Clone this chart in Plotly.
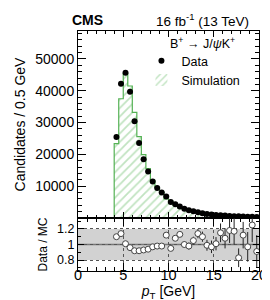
import plotly.graph_objects as go

# ---------------- data ----------------
pt_bins = [4.25, 4.75, 5.25, 5.75, 6.25, 6.75, 7.25, 7.75, 8.25, 8.75,
           9.25, 9.75, 10.25, 10.75, 11.25, 11.75, 12.25, 12.75, 13.25, 13.75,
           14.25, 14.75, 15.25, 15.75, 16.25, 16.75, 17.25, 17.75, 18.25, 18.75,
           19.25, 19.75]
bin_width = 0.5

data_counts = [25500, 42200, 45700, 39700, 30400, 23600, 18500, 14600, 11500, 9400,
               8000, 6750, 5000, 4300, 3600, 2900, 2400, 2100, 1800, 1500,
               1250, 1100, 950, 850, 750, 650, 580, 520, 460, 410,
               370, 330]

mc_counts = [23400, 37500, 45500, 41500, 33200, 25600, 19900, 15500, 11850, 9600,
             8150, 6030, 5260, 3980, 3190, 2900, 2450, 2000, 1580, 1360,
             1260, 1130, 940, 740, 690, 550, 500, 630, 410, 420,
             300, 360]

ratio = [1.10, 1.14, 1.01, 0.96, 0.92, 0.92, 0.93, 0.94, 0.97, 0.98,
         0.98, 1.12, 0.95, 1.08, 1.13, 1.00, 0.98, 1.05, 1.14, 1.10,
         0.99, 0.97, 1.01, 1.15, 1.08, 1.18, 1.17, 0.83, 1.12, 0.97,
         1.25, 0.91]
ratio_err = [0.01, 0.01, 0.01, 0.01, 0.01, 0.01, 0.01, 0.01, 0.01, 0.01,
             0.015, 0.02, 0.025, 0.03, 0.035, 0.04, 0.045, 0.05, 0.06, 0.065,
             0.07, 0.08, 0.085, 0.12, 0.13, 0.16, 0.17, 0.12, 0.17, 0.19,
             0.22, 0.21]

band_low, band_high = 0.8, 1.2
x_ticks = [0, 5, 10, 15, 20]
y_ticks = [10000, 20000, 30000, 40000, 50000]
ratio_ticks = [0.8, 1, 1.2]
ratio_labels = ["0.8", "1", "1.2"]

# ---------------- styling ----------------
FONT = "Liberation Sans, Arial, Helvetica, sans-serif"
GREEN = "#55b255"
HATCH = "#82c782"

W, H = 270, 300
ML, MR, MT, MB = 65, 11, 23, 37
PW, PH = W - ML - MR, H - MT - MB
split = (H - MB - 210) / PH


def px_x(p):
    return (p - ML) / PW


def px_y(p):
    return (H - MB - p) / PH


fig = go.Figure()

# hatched simulation histogram (fill)
fig.add_trace(go.Bar(
    x=pt_bins, y=mc_counts, width=bin_width, name="Simulation",
    marker=dict(color="rgba(255,255,255,0)", line=dict(width=0),
                pattern=dict(shape="/", fgcolor=HATCH, bgcolor="rgba(255,255,255,0)",
                             size=6, solidity=0.3)),
    xaxis="x", yaxis="y", legendrank=2, hoverinfo="skip"))

# step outline
edges = [c - bin_width / 2 for c in pt_bins]
step_x = [edges[0]] + edges + [pt_bins[-1] + bin_width / 2]
step_y = [0] + mc_counts + [mc_counts[-1]]
fig.add_trace(go.Scatter(
    x=step_x, y=step_y, mode="lines", line=dict(color=GREEN, width=1.2, shape="hv"),
    showlegend=False, xaxis="x", yaxis="y", hoverinfo="skip"))

# data points
fig.add_trace(go.Scatter(
    x=pt_bins, y=data_counts, mode="markers", name="Data",
    marker=dict(color="black", size=6, symbol="circle"),
    xaxis="x", yaxis="y", legendrank=1))

# ratio points
fig.add_trace(go.Scatter(
    x=pt_bins, y=ratio, mode="markers", showlegend=False,
    marker=dict(color="white", size=6, symbol="circle",
                line=dict(color="#444444", width=1)),
    error_y=dict(type="data", array=ratio_err, color="#222222", thickness=1, width=0),
    xaxis="x2", yaxis="y2"))

line_common = dict(showline=True, linecolor="black", linewidth=1, mirror="allticks",
                   ticks="inside", tickcolor="black", zeroline=False)

fig.update_layout(
    width=W, height=H,
    margin=dict(l=ML, r=MR, t=MT, b=MB),
    paper_bgcolor="white", plot_bgcolor="white",
    font=dict(family=FONT, color="black", size=13),
    bargap=0,
    showlegend=True,
    xaxis=dict(domain=[0, 1], range=[0, 20], anchor="y", showticklabels=False,
               tickvals=x_ticks, ticklen=6, showgrid=False,
               minor=dict(ticks="inside", dtick=1, ticklen=3, tickcolor="black"),
               **line_common),
    yaxis=dict(domain=[split, 1], range=[0, 58800], anchor="x",
               tickvals=y_ticks, ticktext=[str(v) for v in y_ticks], ticklen=8,
               showgrid=False,
               tickfont=dict(family=FONT, size=14, color="black"),
               minor=dict(ticks="inside", dtick=2000, ticklen=4, tickcolor="black"),
               title=dict(text="Candidates / 0.5 GeV", standoff=6,
                          font=dict(family=FONT, size=14)),
               **line_common),
    xaxis2=dict(domain=[0, 1], range=[0, 20], anchor="y2",
                tickvals=x_ticks, ticktext=[str(v) for v in x_ticks], ticklen=8,
                tickfont=dict(family=FONT, size=14.5, color="black"),
                ticklabelstandoff=-9,
                showgrid=True, gridcolor="#555555", griddash="dot", gridwidth=1,
                minor=dict(ticks="inside", dtick=1, ticklen=4, tickcolor="black"),
                title=dict(text="<i>p</i><sub>T</sub> [GeV]", standoff=0,
                           font=dict(family=FONT, size=14)),
                **line_common),
    yaxis2=dict(domain=[0, split], range=[0.66, 1.34], anchor="x2",
                tickvals=ratio_ticks, ticktext=ratio_labels, ticklen=6,
                tickfont=dict(family=FONT, size=12.5, color="black"),
                showgrid=True, gridcolor="#555555", griddash="dot", gridwidth=1,
                minor=dict(ticks="inside", dtick=0.1, ticklen=3, tickcolor="black"),
                title=dict(text="Data / MC", standoff=6, font=dict(family=FONT, size=12)),
                **line_common),
    legend=dict(x=px_x(133), y=px_y(38), xanchor="left", yanchor="top",
                bgcolor="rgba(0,0,0,0)", borderwidth=0,
                font=dict(family=FONT, size=12.5, color="black")),
    shapes=[
        dict(type="rect", xref="paper", yref="y2", x0=0, x1=1,
             y0=band_low, y1=band_high, fillcolor="#d2d2d2", line=dict(width=0),
             layer="below"),
        dict(type="line", xref="paper", yref="y2", x0=0, x1=1, y0=1, y1=1,
             line=dict(color="#777777", width=1.5), layer="below"),
    ],
    annotations=[
        dict(text="<b>CMS</b>", xref="paper", yref="paper", x=px_x(75),
             y=px_y(12), xanchor="center", yanchor="middle",
             showarrow=False, font=dict(family=FONT, size=14, color="black")),
        dict(text="16 fb<sup>-1</sup> (13 TeV)", xref="paper", yref="paper",
             x=px_x(250), y=px_y(12),
             xanchor="right", yanchor="middle", showarrow=False,
             font=dict(family=FONT, size=13.5, color="black")),
        dict(text="B<sup>+</sup> → J/<i>ψ</i>K<sup>+</sup>", xref="paper", yref="paper",
             x=px_x(161), y=px_y(35), xanchor="left", yanchor="middle",
             showarrow=False, font=dict(family=FONT, size=12.5, color="black")),
    ],
)

fig.write_html("out.html")
